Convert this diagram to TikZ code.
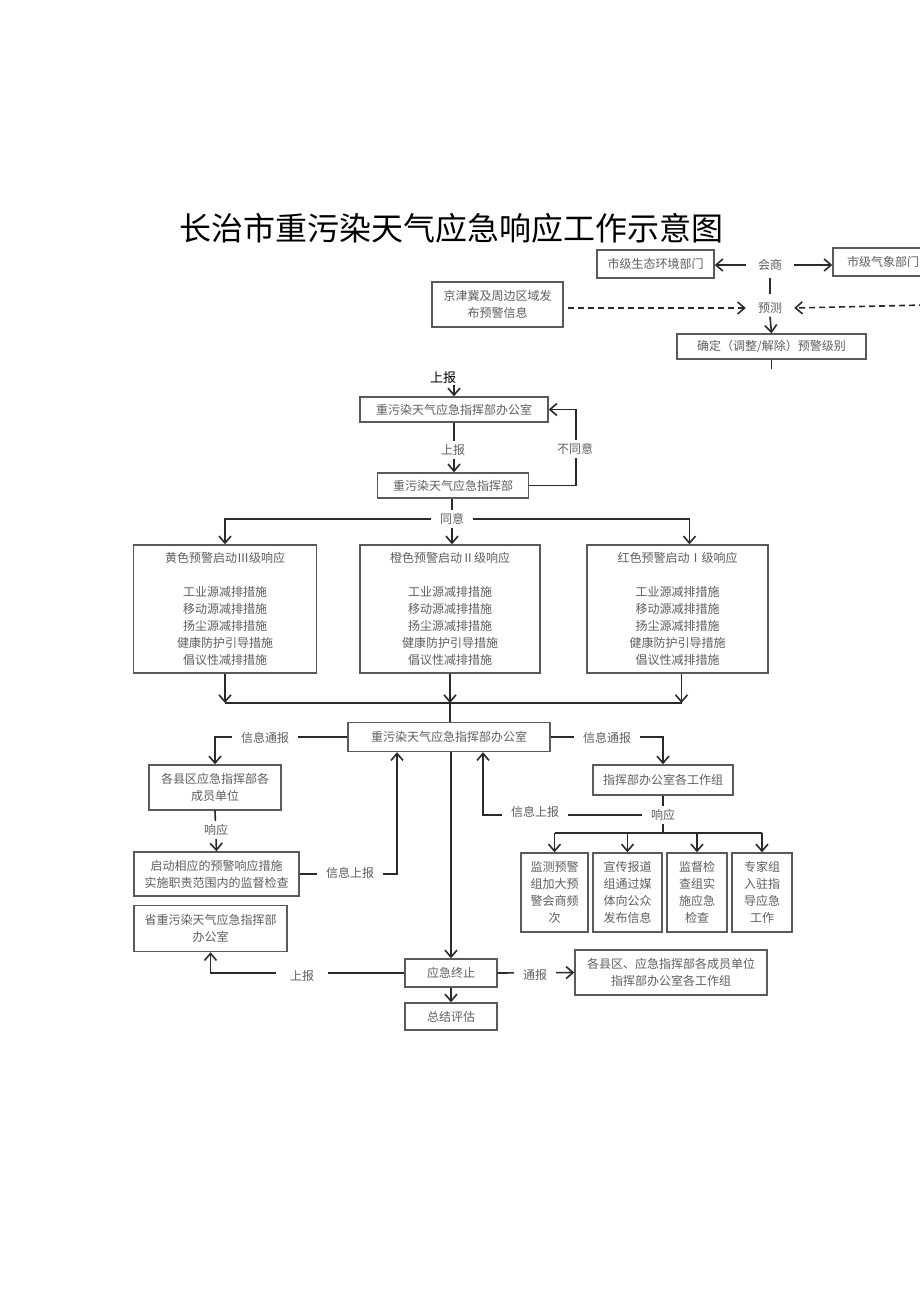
\documentclass[tikz,border=0pt]{standalone}
\usepackage{fontspec}
\setmainfont{Noto Sans CJK SC}
\usetikzlibrary{arrows.meta}
\definecolor{boxc}{HTML}{5A5A5A}
\definecolor{linec}{HTML}{2A2A2A}
\definecolor{txt}{HTML}{5E5E5E}
\tikzset{
  box/.style={draw=boxc, line width=1.4pt, fill=white, text=txt, font=\fontsize{12}{17}\selectfont, align=center, inner sep=0pt},
  lab/.style={fill=white, text=txt, font=\fontsize{12}{14}\selectfont, inner xsep=9pt, inner ysep=3pt},
  conn/.style={draw=linec, line width=1.6pt},
  arr/.style={conn, -{Straight Barb[length=7pt,width=12pt]}},
  darr/.style={arr, dash pattern=on 6pt off 4pt},
}
\begin{document}
\begin{tikzpicture}[x=1pt,y=-1pt]
\useasboundingbox (0,0) rectangle (920,1301);
\clip (0,0) rectangle (920,1301);
% title
\node[font=\fontsize{32}{32}\selectfont, text=black, inner sep=0pt] (title) at (451.5,228) {长治市重污染天气应急响应工作示意图};
% top part
\node[box, minimum width=117pt, minimum height=28pt] (env) at (655.5,264) {市级生态环境部门};
\node[box, minimum width=100pt, minimum height=28pt] (met) at (883,262) {市级气象部门};
\node[lab, inner xsep=12pt] (hs) at (770,265) {会商};
\node[box, minimum width=131pt, minimum height=45pt] (jjj) at (497.5,304.5) {京津冀及周边区域发\\布预警信息};
\node[lab, inner xsep=12pt] (yc) at (770,308) {预测};
\node[box, minimum width=189pt, minimum height=25pt] (fix) at (771.5,346.5) {确定（调整/解除）预警级别};
\coordinate (rightsrc) at (925,305);
\draw[arr] (hs.west) -- (hs.west -| env.east);
\draw[arr] (hs.east) -- (hs.east -| met.west);
\draw[conn, shorten <=4pt, shorten >=5pt] (hs.south) -- (yc.north);
\draw[darr, shorten <=4pt] (jjj.east |- yc.west) -- (yc.west);
\draw[darr] (rightsrc) -- (yc.east);
\draw[arr] (yc.south) -- (fix.north);
\draw[conn] (fix.south) -- ++(0,9);
% command
\node[font=\fontsize{13}{14}\selectfont, text=black, inner sep=1pt] (tb) at (443,378) {上报};
\node[box, minimum width=188pt, minimum height=25pt] (off1) at (454,409.5) {重污染天气应急指挥部办公室};
\node[box, minimum width=151pt, minimum height=25pt] (cmd) at (453,485.5) {重污染天气应急指挥部};
\node[lab] (ty) at (452,519) {同意};
\draw[arr] (tb.south -| off1.north) -- (off1.north);
\draw[arr] (off1.south) -- (off1.south |- cmd.north);
\draw[arr] (cmd.east) -- ++(47,0) |- (off1.east);
\draw[conn] (cmd.south -| ty.north) -- (ty.north);
% levels
\node[box, minimum width=183pt, minimum height=128pt] (yel) at (225,609) {黄色预警启动Ⅲ级响应\\[17pt]工业源减排措施\\移动源减排措施\\扬尘源减排措施\\健康防护引导措施\\倡议性减排措施};
\node[box, minimum width=180pt, minimum height=128pt] (ora) at (450,609) {橙色预警启动Ⅱ级响应\\[17pt]工业源减排措施\\移动源减排措施\\扬尘源减排措施\\健康防护引导措施\\倡议性减排措施};
\node[box, minimum width=181pt, minimum height=128pt] (red) at (677.5,609) {红色预警启动Ⅰ级响应\\[17pt]工业源减排措施\\移动源减排措施\\扬尘源减排措施\\健康防护引导措施\\倡议性减排措施};
\draw[arr] (ty.west) -| (yel.north);
\draw[arr] (ty.south) -- (ty.south |- ora.north);
\draw[arr] (ty.east) -| ([xshift=12pt]red.north);
\coordinate (busY) at (0,703);
\draw[arr] (yel.south) -- (yel.south |- busY);
\draw[arr] (ora.south) -- (ora.south |- busY);
\draw[arr] ([xshift=4pt]red.south) -- ([xshift=4pt]red.south |- busY);
\draw[conn] (yel.south |- busY) -- ([xshift=4pt]red.south |- busY);
% office 2
\node[box, minimum width=202pt, minimum height=29pt] (off2) at (449,737) {重污染天气应急指挥部办公室};
\draw[conn] (ora.south |- busY) -- (ora.south |- off2.north);
\node[box, minimum width=132pt, minimum height=45pt] (gx) at (215,787.5) {各县区应急指挥部各\\成员单位};
\node[box, minimum width=165pt, minimum height=44pt] (qd) at (216.5,874) {启动相应的预警响应措施\\实施职责范围内的监督检查};
\node[box, minimum width=153pt, minimum height=46pt] (sheng) at (210.5,928.5) {省重污染天气应急指挥部\\办公室};
\node[box, minimum width=140pt, minimum height=30pt] (zg) at (663,780) {指挥部办公室各工作组};
\node[lab] (xy2) at (663,815) {响应};
\node[box, minimum width=67pt, minimum height=79pt] (b1) at (554.5,892.5) {监测预警\\组加大预\\警会商频\\次};
\node[box, minimum width=69pt, minimum height=79pt] (b2) at (627.5,892.5) {宣传报道\\组通过媒\\体向公众\\发布信息};
\node[box, minimum width=60pt, minimum height=79pt] (b3) at (697,892.5) {监督检\\查组实\\施应急\\检查};
\node[box, minimum width=60pt, minimum height=79pt] (b4) at (762,892.5) {专家组\\入驻指\\导应急\\工作};
\node[box, minimum width=92pt, minimum height=28pt] (end) at (451,973) {应急终止};
\node[box, minimum width=92pt, minimum height=27pt] (sum) at (451,1016.5) {总结评估};
\node[box, minimum width=192pt, minimum height=45pt] (notice) at (671,972.5) {各县区、应急指挥部各成员单位\\指挥部办公室各工作组};
\coordinate (xA) at (397,0);
\coordinate (xB) at (483,0);
\coordinate (bus2) at (0,833);
\draw[arr] (off2.west) -| (gx.north);
\draw[arr] (gx.south) -- (qd.north);
\draw[arr] (qd.east) -| (xA |- off2.south);
\draw[arr] (off2.east) -| (zg.north);
\draw[conn] (zg.south) -- (xy2.north);
\draw[conn] (xy2.south) -- (xy2.south |- bus2);
\draw[arr] (xy2.west) -| (xB |- off2.south);
\draw[conn] (b1.north |- bus2) -- (b4.north |- bus2);
\foreach \b in {b1,b2,b3,b4} \draw[arr] (\b.north |- bus2) -- (\b.north);
\draw[arr] (off2.south -| end.north) -- (end.north);
\draw[arr] (end.west) -| (sheng.south);
\draw[arr] (end.east) -- (notice.west);
\draw[arr] (end.south) -- (sum.north);
% labels on lines
\node[lab] (l1) at (453,450) {上报};
\node[lab] (l2) at (575,449) {不同意};
\node[lab] (l3) at (265,738) {信息通报};
\node[lab] (l4) at (216,830) {响应};
\node[lab] (l5) at (350,873) {信息上报};
\node[lab] (l6) at (607,738) {信息通报};
\node[lab] (l7) at (535,812) {信息上报};
\node[lab, inner xsep=14pt] (l8) at (302,976) {上报};
\node[lab] (l9) at (535,975) {通报};
\end{tikzpicture}
\end{document}
